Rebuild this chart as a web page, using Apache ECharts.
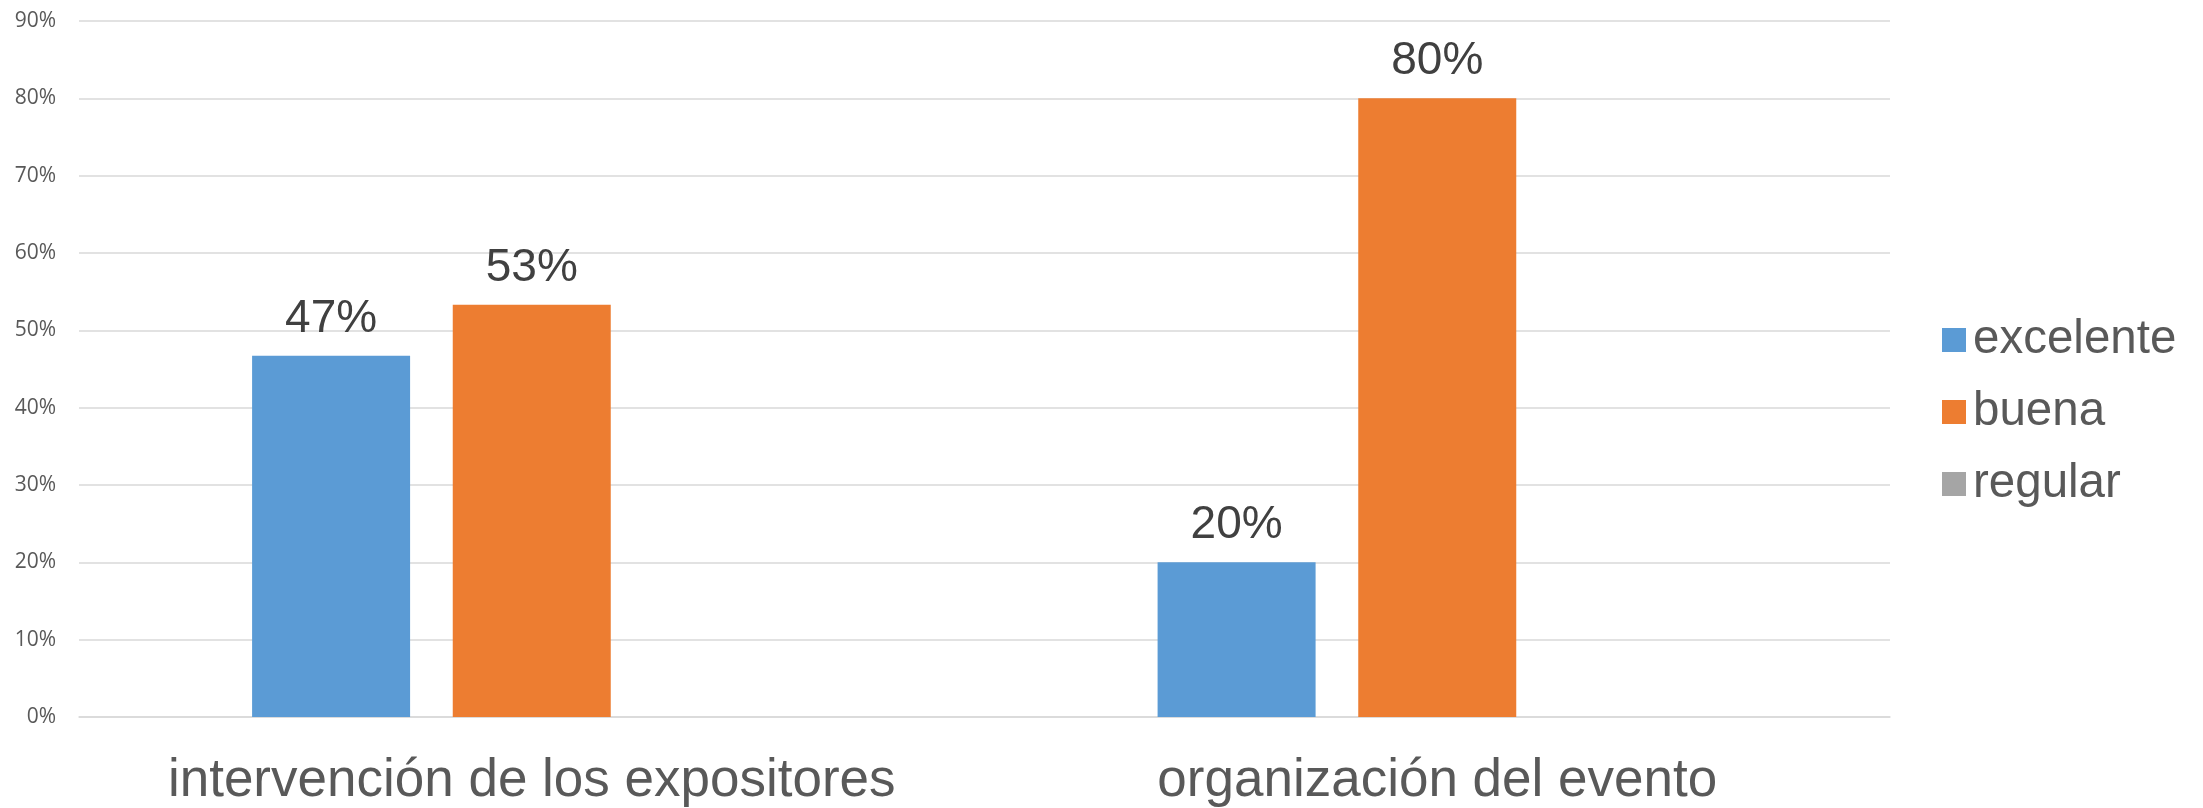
<!DOCTYPE html>
<html>
<head>
<meta charset="utf-8">
<title>chart</title>
<script src="https://cdn.jsdelivr.net/npm/echarts@6/dist/echarts.min.js"></script>
<style>
  html, body { margin: 0; padding: 0; background: #fff; }
  #main { width: 2203px; height: 808px; }
</style>
</head>
<body>
<div id="main"></div>
<script>
// categorias del eje x
var categorias = ['intervención de los expositores', 'organización del evento']
// valores en %
var excelente = [46.7, 20]
var buena = [53.3, 80]
var regular = [null, null]
var nombres = ['excelente', 'buena', 'regular']
var colores = ['#5B9BD5', '#ED7D31', '#A5A5A5']

var chart = echarts.init(document.getElementById('main'))

function serie(nombre, datos, i) {
  return {
    name: nombre,
    type: 'bar',
    data: datos,
    barWidth: 158,
    barGap: '27%',
    itemStyle: { color: colores[i] },
    label: {
      show: true,
      position: 'top',
      distance: 14,
      fontFamily: 'Liberation Sans',
      fontSize: 46,
      color: '#404040',
      formatter: function (p) { return Math.round(p.value) + '%' }
    }
  }
}

chart.setOption({
  animation: false,
  color: colores,
  grid: { left: 79, right: 313, top: 21, bottom: 91 },
  legend: {
    orient: 'vertical',
    left: 1937,
    top: 311,
    icon: 'rect',
    itemWidth: 24,
    itemHeight: 24,
    itemGap: 24,
    data: nombres,
    textStyle: {
      fontFamily: 'Liberation Sans',
      fontSize: 47.5,
      lineHeight: 45,
      color: '#595959',
      padding: [0, 0, 0, 2]
    }
  },
  xAxis: {
    type: 'category',
    data: categorias,
    axisLine: { lineStyle: { color: '#D9D9D9', width: 1.5 } },
    axisTick: { show: false },
    axisLabel: {
      interval: 0,
      margin: 38,
      fontFamily: 'Liberation Sans',
      fontSize: 53,
      color: '#595959'
    }
  },
  yAxis: {
    type: 'value',
    min: 0,
    max: 90,
    interval: 10,
    axisLine: { show: false },
    axisTick: { show: false },
    splitLine: { lineStyle: { color: '#D9D9D9', width: 1.5 } },
    axisLabel: {
      margin: 23,
      fontFamily: 'Open Sans',
      fontSize: 21,
      color: '#595959',
      formatter: '{value}%'
    }
  },
  series: [
    serie('excelente', excelente, 0),
    serie('buena', buena, 1),
    serie('regular', regular, 2)
  ]
})
</script>
</body>
</html>
